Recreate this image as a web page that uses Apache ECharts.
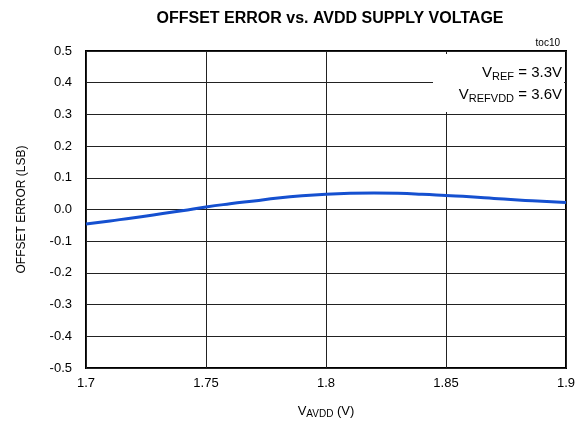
<!DOCTYPE html>
<html><head><meta charset="utf-8">
<script src="https://cdn.jsdelivr.net/npm/echarts@6/dist/echarts.min.js"></script>
<style>html,body{margin:0;padding:0;background:#fff}#c{width:584px;height:424px}</style>
</head><body><div id="c"></div>
<script>
const xValues = [1.70,1.71,1.72,1.73,1.74,1.75,1.76,1.77,1.78,1.79,1.80,1.81,1.82,1.83,1.84,1.85,1.86,1.87,1.88,1.89,1.90];
const offsetError = [-0.046,-0.036,-0.026,-0.015,-0.004,0.008,0.018,0.027,0.036,0.043,0.048,0.051,0.052,0.051,0.048,0.044,0.040,0.035,0.030,0.026,0.022];
const xTicks = [1.7,1.75,1.8,1.85,1.9];
const yTicks = [-0.5,-0.4,-0.3,-0.2,-0.1,0.0,0.1,0.2,0.3,0.4,0.5];

const F = 'Liberation Sans, Arial, sans-serif';
const rich = {v: {fontFamily: F, fontSize: 15, color: '#000'}, s: {fontFamily: F, fontSize: 11, color: '#000', verticalAlign: 'bottom', padding: [8,0,0,0]}};
const chart = echarts.init(document.getElementById('c'));
chart.setOption({
  animation: false,
  title: {text: 'OFFSET ERROR vs. AVDD SUPPLY VOLTAGE', left: 325, textAlign: 'center', top: 6,
    textStyle: {fontFamily: F, fontSize: 16, fontWeight: 'bold', color: '#000'}},
  grid: {left: 86, right: 18, top: 51, bottom: 56, show: true, borderColor: '#000', borderWidth: 2},
  xAxis: {type: 'value', min: 1.7, max: 1.9, interval: 0.05,
    axisLine: {show: false}, axisTick: {show: false},
    splitLine: {show: true, lineStyle: {color: '#222', width: 1}},
    axisLabel: {fontFamily: F, fontSize: 13, color: '#000', margin: 9,
      formatter: v => { const t = xTicks.find(x => Math.abs(x - v) < 1e-6); return t === undefined ? '' : String(t); }},
    name: '{v|V}{s|AVDD}{v| (V)}', nameLocation: 'middle', nameGap: 35,
    nameTextStyle: {rich: {v: {fontFamily: F, fontSize: 13, color: '#000'}, s: {fontFamily: F, fontSize: 10, color: '#000', verticalAlign: 'bottom', padding: [6,0,0,0]}}}
  },
  yAxis: {type: 'value', min: -0.5, max: 0.5, interval: 0.1,
    axisLine: {show: false}, axisTick: {show: false},
    splitLine: {show: true, lineStyle: {color: '#222', width: 1}},
    axisLabel: {fontFamily: F, fontSize: 13, color: '#000', margin: 14,
      formatter: v => { const t = yTicks.find(y => Math.abs(y - v) < 1e-6); return t === undefined ? '' : t.toFixed(1); }},
    name: 'OFFSET ERROR (LSB)', nameLocation: 'middle', nameGap: 58,
    nameTextStyle: {fontFamily: F, fontSize: 12, color: '#000'}
  },
  graphic: [
    {type: 'rect', shape: {x: 433, y: 54, width: 131, height: 58}, style: {fill: '#fff'}, z: 10},
    {type: 'text', x: 562, y: 73, z: 11, style: {text: '{v|V}{s|REF}{v| = 3.3V}', align: 'right', verticalAlign: 'middle', rich: rich}},
    {type: 'text', x: 562, y: 95, z: 11, style: {text: '{v|V}{s|REFVDD}{v| = 3.6V}', align: 'right', verticalAlign: 'middle', rich: rich}},
    {type: 'text', x: 560, y: 43, style: {text: 'toc10', fontFamily: F, fontSize: 10, fill: '#000', align: 'right', verticalAlign: 'middle'}}
  ],
  series: [{type: 'line', data: xValues.map((x, i) => [x, offsetError[i]]), smooth: true, showSymbol: false,
    lineStyle: {color: '#1550d0', width: 3}, z: 5}]
});
</script></body></html>
